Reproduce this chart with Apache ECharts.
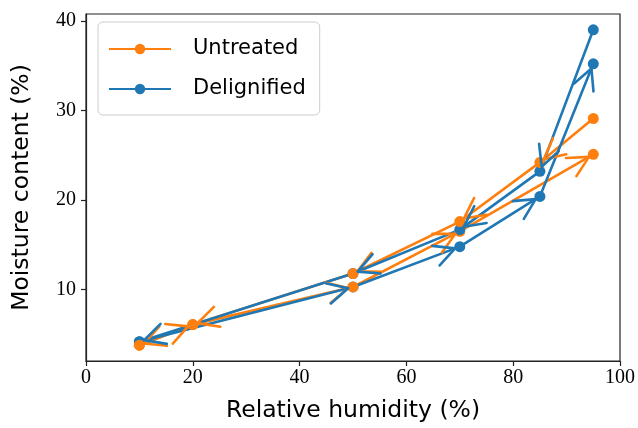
<!DOCTYPE html>
<html>
<head>
<meta charset="utf-8">
<script src="https://cdn.jsdelivr.net/npm/echarts@6/dist/echarts.min.js"></script>
<style>
  html, body { margin: 0; padding: 0; background: #fff; }
  #chart { width: 638px; height: 428px; }
</style>
</head>
<body>
<div id="chart"></div>
<script>
// adsorption / desorption paths
const untreatedAdsX = [10, 20, 50, 70, 95];
const untreatedAdsY = [3.8, 6.1, 10.3, 16.5, 25.1];
const untreatedDesX = [95, 85, 70, 50, 20, 10];
const untreatedDesY = [29.1, 24.2, 17.6, 11.8, 6.1, 3.8];

const delignifiedAdsX = [10, 50, 70, 85, 95];
const delignifiedAdsY = [4.2, 10.3, 14.8, 20.4, 35.2];
const delignifiedDesX = [95, 85, 70, 50, 10];
const delignifiedDesY = [39.0, 23.2, 16.7, 11.8, 4.2];

const yTicks = [10, 20, 30, 40];

const ORANGE = '#ff7f0e';
const BLUE = '#1f77b4';
const sans = 'DejaVu Sans';
const serif = 'Liberation Serif';

const pts = (xs, ys) => xs.map((x, i) => [x, ys[i]]);
const segs = (xs, ys) => {
  const out = [];
  for (let i = 1; i < xs.length; i++) out.push([xs[i - 1], ys[i - 1], xs[i], ys[i]]);
  return out;
};

// open "->" arrow head at the end of every segment
const arrowHead = color => (params, api) => {
  const a = api.coord([api.value(0), api.value(1)]);
  const b = api.coord([api.value(2), api.value(3)]);
  let dx = b[0] - a[0], dy = b[1] - a[1];
  const len = Math.hypot(dx, dy);
  dx /= len; dy /= len;
  const tip = [b[0] - dx * 5, b[1] - dy * 5];
  const ang = 27 * Math.PI / 180, L = 23;
  const bx = -dx, by = -dy;
  const arm = s => [
    tip[0] + L * (bx * Math.cos(s * ang) - by * Math.sin(s * ang)),
    tip[1] + L * (bx * Math.sin(s * ang) + by * Math.cos(s * ang))
  ];
  return {
    type: 'polyline',
    shape: { points: [arm(1), tip, arm(-1)] },
    style: { stroke: color, lineWidth: 2.6, fill: null, lineCap: 'round', lineJoin: 'round' }
  };
};

// path lines (blue drawn over orange)
const pathLine = (name, color, data, z) => ({
  name: name,
  type: 'line',
  data: data,
  color: color,
  symbol: 'circle',
  showSymbol: false,
  lineStyle: { width: 2.6, color: color },
  itemStyle: { color: color },
  z: z
});

// markers
const dots = (name, color, data, z) => ({
  name: name,
  type: 'scatter',
  data: data,
  symbol: 'circle',
  symbolSize: 11,
  itemStyle: { color: color, opacity: 1 },
  z: z
});

const chart = echarts.init(document.getElementById('chart'));
chart.setOption({
  animation: false,
  grid: {
    left: 86, right: 18, top: 14, bottom: 65,
    show: true, borderColor: '#222', borderWidth: 1.2, backgroundColor: 'transparent'
  },
  legend: {
    orient: 'vertical',
    left: 98, top: 22,
    data: ['Untreated', 'Delignified'],
    backgroundColor: '#fff',
    borderColor: '#cccccc',
    borderWidth: 1,
    borderRadius: 5,
    padding: [14, 14, 13, 10],
    itemWidth: 62,
    itemHeight: 13,
    itemGap: 14,
    textStyle: { fontFamily: sans, fontSize: 21, color: '#000', lineHeight: 26, padding: [0, 0, 0, 17] }
  },
  xAxis: {
    type: 'value',
    min: 0, max: 100, interval: 20,
    name: 'Relative humidity (%)',
    nameLocation: 'middle',
    nameGap: 38,
    nameTextStyle: { fontFamily: sans, fontSize: 23.5, color: '#000' },
    axisLine: { show: true, lineStyle: { color: '#222', width: 1.2 } },
    axisTick: { show: true, length: 5, lineStyle: { color: '#222', width: 1.2 } },
    axisLabel: { fontFamily: serif, fontSize: 20, color: '#000', margin: 7 },
    splitLine: { show: false }
  },
  yAxis: {
    type: 'value',
    min: 2.04, max: 40.76,
    name: 'Moisture content (%)',
    nameLocation: 'middle',
    nameGap: 52,
    nameTextStyle: { fontFamily: sans, fontSize: 23.5, color: '#000' },
    axisLine: { show: true, lineStyle: { color: '#222', width: 1.2 } },
    axisTick: { show: true, length: 5, customValues: yTicks, lineStyle: { color: '#222', width: 1.2 } },
    axisLabel: { fontFamily: serif, fontSize: 20, color: '#000', margin: 10, customValues: yTicks },
    splitLine: { show: false }
  },
  series: [
    pathLine('Untreated', ORANGE, pts(untreatedAdsX, untreatedAdsY), 2),
    pathLine('Untreated', ORANGE, pts(untreatedDesX, untreatedDesY), 2),
    pathLine('Delignified', BLUE, pts(delignifiedAdsX, delignifiedAdsY), 3),
    pathLine('Delignified', BLUE, pts(delignifiedDesX, delignifiedDesY), 3),
    dots('Delignified', BLUE, pts(delignifiedAdsX, delignifiedAdsY), 4),
    dots('Untreated', ORANGE, pts(untreatedAdsX, untreatedAdsY), 5),
    dots('Delignified', BLUE, pts(delignifiedDesX, delignifiedDesY), 6),
    dots('Untreated', ORANGE, pts(untreatedDesX, untreatedDesY), 7),
    {
      name: 'arrowsOrange', type: 'custom', z: 8,
      renderItem: arrowHead(ORANGE),
      encode: { x: [0, 2], y: [1, 3] },
      data: segs(untreatedAdsX, untreatedAdsY).concat(segs(untreatedDesX, untreatedDesY))
    },
    {
      name: 'arrowsBlue', type: 'custom', z: 9,
      renderItem: arrowHead(BLUE),
      encode: { x: [0, 2], y: [1, 3] },
      data: segs(delignifiedAdsX, delignifiedAdsY).concat(segs(delignifiedDesX, delignifiedDesY))
    }
  ]
});
</script>
</body>
</html>
